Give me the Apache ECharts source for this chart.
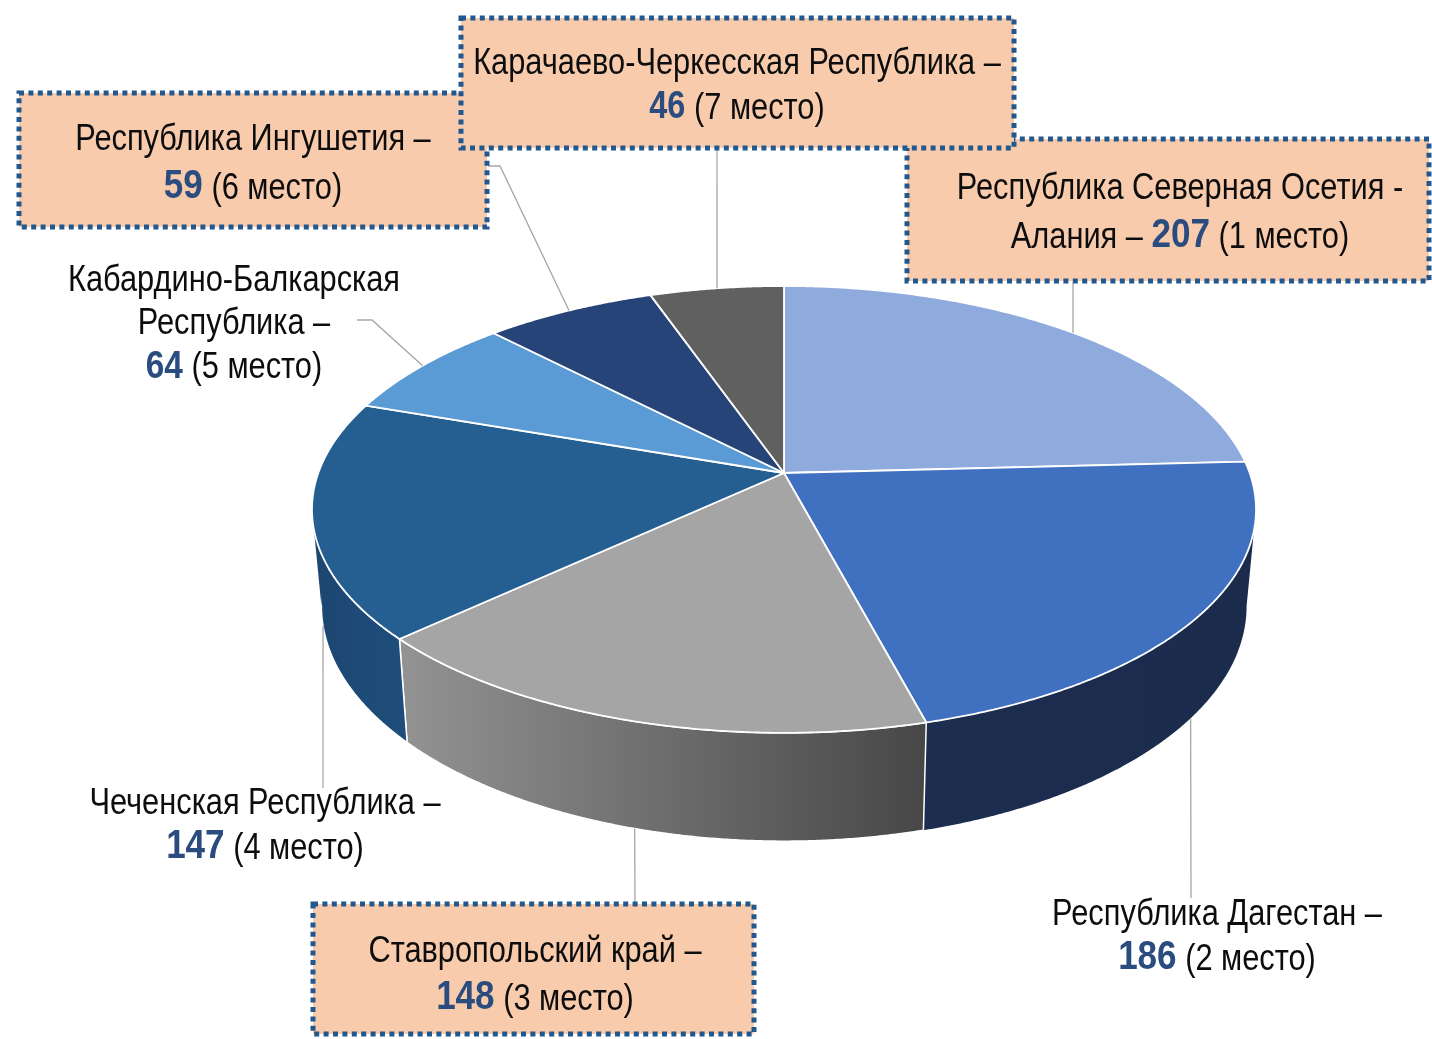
<!DOCTYPE html>
<html><head><meta charset="utf-8">
<script src="https://cdn.jsdelivr.net/npm/echarts@6/dist/echarts.min.js"></script>
<style>html,body{margin:0;padding:0;background:#fff}#c{width:1432px;height:1039px}</style>
</head><body><div id="c"></div>
<script>
// ---------------- DATA ----------------
const regions = ['Республика Северная Осетия - Алания','Республика Дагестан','Ставропольский край','Чеченская Республика','Кабардино-Балкарская Республика','Республика Ингушетия','Карачаево-Черкесская Республика'];
const values = [207, 186, 148, 147, 64, 59, 46];
const places = [1, 2, 3, 4, 5, 6, 7];
// label text: lines before the number line, and text preceding the number on the number line
const labelHeadLines = [
  ['Республика Северная Осетия -'],
  ['Республика Дагестан –'],
  ['Ставропольский край –'],
  ['Чеченская Республика –'],
  ['Кабардино-Балкарская', 'Республика –'],
  ['Республика Ингушетия –'],
  ['Карачаево-Черкесская Республика –']
];
const labelNumPrefix = ['Алания – ', '', '', '', '', '', ''];

// ---------------- STYLE / LAYOUT ----------------
const topColors = ['#8FAADC', '#4070C0', '#A5A5A5', '#255E91', '#5B9BD5', '#264478', '#606060'];
const sideColors = [
  ['#5A76A8', '#4E6894'], ['#1C2D50', '#1B2B4C'], ['#939393', '#474747'], ['#1C4670', '#1F4E7C'],
  ['#3A72A6', '#336596'], ['#182E54', '#162A4C'], ['#474747', '#3C3C3C']
];
const G = { cx: 784, cy: 473, A: 465.7, B: 217.5, e: 0.163, H: 95, s: 0.98 };
const FONT = "'Liberation Sans',Arial,sans-serif";
const FS = 36, SX = 0.855;
const labelLayout = [
  { x: 1180, y: 189, gap: 47, num: 41, box: [907, 139, 522, 142], leader: { rim: 'top', snapX: 1073, pts: [[1073, 283]] } },
  { x: 1217, y: 915, gap: 43, num: 41, box: null, leader: { rim: 'bottom', snapX: 1191, pts: [[1191, 898]] } },
  { x: 535, y: 952, gap: 46, num: 41, box: [313, 904, 441, 130], leader: { rim: 'bottom', snapX: 635, pts: [[635, 904]] } },
  { x: 265, y: 804, gap: 43, num: 41, box: null, leader: { rim: 'bottom', snapX: 323, pts: [[323, 788]] } },
  { x: 234, y: 281, gap: 43, num: 39, box: null, leader: { rim: 'top', snapX: null, pts: [[372, 320], [357, 320]] } },
  { x: 253, y: 140, gap: 47, num: 41, box: [19, 93, 468, 134], leader: { rim: 'top', snapX: null, pts: [[500, 166], [488, 166]] } },
  { x: 737, y: 64, gap: 44, num: 38, box: [461, 18, 553, 130], leader: { rim: 'top', snapX: 717, pts: [[717, 148]] } }
];

// ---------------- GEOMETRY ----------------
const total = values.reduce((a, b) => a + b, 0);
const startAng = [], endAng = [];
{ let acc = 0; values.forEach((v, i) => { startAng[i] = acc / total * 2 * Math.PI; acc += v; endAng[i] = acc / total * 2 * Math.PI; }); }
const silR = Math.acos(-G.e), silL = 2 * Math.PI - silR;

function rim(phi, bottom) {
  const u = Math.sin(phi), v = -Math.cos(phi), w = 1 - G.e * v;
  if (!bottom) return [G.cx + G.A * u / w, G.cy + G.B * v / w];
  return [G.cx + G.s * G.A * u / w, G.cy + (G.s * G.B * v + G.H) / w];
}
function arc(a0, a1, bottom) {
  const n = Math.max(2, Math.ceil(Math.abs(a1 - a0) / (0.3 * Math.PI / 180)));
  const pts = [];
  for (let k = 0; k <= n; k++) pts.push(rim(a0 + (a1 - a0) * k / n, bottom));
  return pts;
}
function anchor(i) {
  const L = labelLayout[i].leader, bottom = L.rim === 'bottom';
  const a0 = startAng[i], a1 = endAng[i], mid = (a0 + a1) / 2;
  if (L.snapX == null) return rim(mid, bottom);
  let best = null, bd = Infinity;
  for (let k = 0; k <= 400; k++) {
    const a = a0 + (a1 - a0) * k / 400, p = rim(a, bottom);
    const d = Math.abs(p[0] - L.snapX) + Math.abs(a - mid) * 0.01;
    if (d < bd) { bd = d; best = p; }
  }
  return best;
}

const data = values.map((v, i) => ({ name: regions[i], value: [i, v] }));

const option = {
  animation: false,
  backgroundColor: '#fff',
  series: [
    { // outer walls
      type: 'custom', coordinateSystem: 'none', silent: true, data: data, z: 1,
      renderItem: function (params, api) {
        const i = params.dataIndex;
        const a0 = startAng[i], a1 = endAng[i];
        const cuts = [a0];
        [silR, silL].forEach(c => { if (c > a0 && c < a1) cuts.push(c); });
        cuts.push(a1);
        const children = [];
        for (let k = 0; k < cuts.length - 1; k++) {
          const top = arc(cuts[k], cuts[k + 1], false);
          const bot = arc(cuts[k], cuts[k + 1], true).reverse();
          const pts = top.concat(bot);
          const xs = pts.map(p => p[0]);
          children.push({
            type: 'polygon', shape: { points: pts },
            style: {
              fill: { type: 'linear', x: Math.min(...xs), y: 0, x2: Math.max(...xs), y2: 0, global: true,
                colorStops: [{ offset: 0, color: sideColors[i][0] }, { offset: 1, color: sideColors[i][1] }] },
              stroke: (k === 0 ? '#fff' : null), lineWidth: 1.5, lineJoin: 'round'
            }
          });
        }
        return { type: 'group', children: children };
      }
    },
    { // top faces
      type: 'custom', coordinateSystem: 'none', silent: true, data: data, z: 2,
      renderItem: function (params, api) {
        const i = params.dataIndex;
        const pts = [[G.cx, G.cy]].concat(arc(startAng[i], endAng[i], false));
        return {
          type: 'polygon', shape: { points: pts },
          style: { fill: topColors[i], stroke: '#fff', lineWidth: 1.8, lineJoin: 'round' }
        };
      }
    },
    { // leader lines
      type: 'custom', coordinateSystem: 'none', silent: true, data: data, z: 3,
      renderItem: function (params, api) {
        const i = params.dataIndex;
        const pts = [anchor(i)].concat(labelLayout[i].leader.pts);
        return { type: 'polyline', shape: { points: pts }, style: { stroke: '#A6A6A6', lineWidth: 1.3, fill: null } };
      }
    },
    { // label boxes + texts
      type: 'custom', coordinateSystem: 'none', silent: true, data: data, z: 4,
      renderItem: function (params, api) {
        const i = params.dataIndex, L = labelLayout[i];
        const children = [];
        if (L.box) {
          children.push({ type: 'rect', z2: 10 + i,
            shape: { x: L.box[0], y: L.box[1], width: L.box[2], height: L.box[3] },
            style: { fill: '#F8CBAD', stroke: '#22588E', lineWidth: 5, lineDash: [5, 4.4] } });
        }
        const heads = labelHeadLines[i];
        heads.forEach((t, k) => {
          children.push({ type: 'text', z2: 50, x: L.x, y: L.y + k * L.gap, scaleX: SX,
            style: { text: t, fill: '#0D0D0D', fontSize: FS, fontFamily: FONT, align: 'center', verticalAlign: 'middle' } });
        });
        const pre = labelNumPrefix[i];
        const txt = (pre ? '{t|' + pre + '}' : '') + '{n|' + api.value(1) + '}{t| (' + places[i] + ' место)}';
        children.push({ type: 'text', z2: 50, x: L.x, y: L.y + heads.length * L.gap, scaleX: SX,
          style: { text: txt, align: 'center', verticalAlign: 'middle',
            rich: {
              t: { fill: '#0D0D0D', fontSize: FS, fontFamily: FONT, verticalAlign: 'bottom' },
              n: { fill: '#2B4C7E', fontSize: L.num, fontWeight: 'bold', fontFamily: FONT, verticalAlign: 'bottom' }
            } } });
        return { type: 'group', children: children };
      }
    }
  ]
};
const chart = echarts.init(document.getElementById('c'), null, { renderer: 'canvas' });
chart.setOption(option);
</script></body></html>
